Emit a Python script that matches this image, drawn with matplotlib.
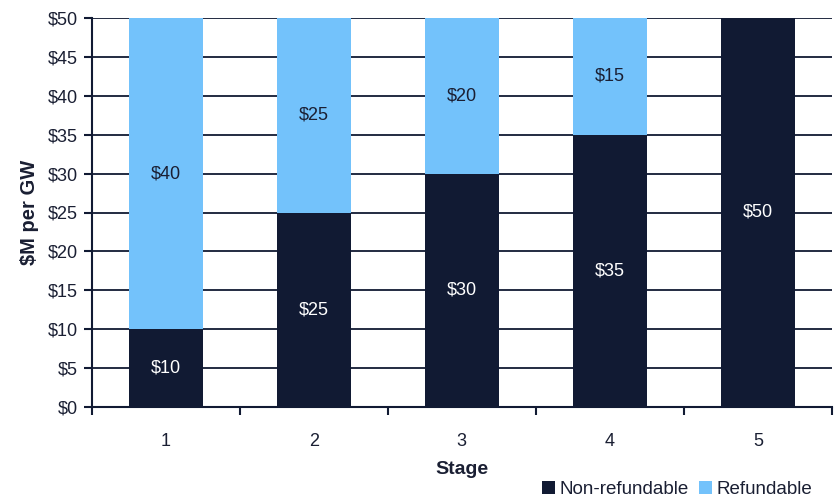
import matplotlib

matplotlib.use("Agg")

import matplotlib.pyplot as plt
from matplotlib.ticker import FixedLocator

plt.rcParams["font.family"] = ["Liberation Sans", "DejaVu Sans"]

# data
stages = ["1", "2", "3", "4", "5"]
non_refundable = [10, 25, 30, 35, 50]
refundable = [40, 25, 20, 15, 0]

C_DARK = "#111a33"
C_LIGHT = "#73c2fb"
C_TEXT = "#1a1f33"

fig = plt.figure(figsize=(8.34, 5.0), dpi=100)
ax = fig.add_axes([0.110, 0.186, 0.8875, 0.778])

x = list(range(1, len(stages) + 1))
b1 = ax.bar(x, non_refundable, width=0.5, color=C_DARK, label="Non-refundable", zorder=3)
b2 = ax.bar(x, refundable, width=0.5, bottom=non_refundable, color=C_LIGHT,
            label="Refundable", zorder=3)

# labels inside segments
for xi, nv, rv in zip(x, non_refundable, refundable):
    if nv > 0:
        ax.text(xi, nv / 2, f"${nv}", ha="center", va="center", color="white", fontsize=13)
    if rv > 0:
        ax.text(xi, nv + rv / 2, f"${rv}", ha="center", va="center", color=C_TEXT, fontsize=13)

ax.set_xlim(0.5, 5.5)
ax.set_ylim(0, 50)
ax.set_yticks(range(0, 55, 5))
ax.set_yticklabels([f"${v}" for v in range(0, 55, 5)])

ax.xaxis.set_major_locator(FixedLocator([0.5 + i for i in range(6)]))
ax.xaxis.set_minor_locator(FixedLocator(x))
ax.set_xticklabels([""] * 6)
ax.set_xticklabels(stages, minor=True)
ax.tick_params(axis="x", which="minor", length=0, pad=19, labelsize=13, labelcolor=C_TEXT)
ax.tick_params(axis="x", which="major", length=6, width=1.5, color=C_DARK, direction="out")
ax.tick_params(axis="y", length=6, width=1.5, color=C_DARK, labelsize=13, labelcolor=C_TEXT,
               pad=4)

ax.grid(axis="y", color=C_DARK, linewidth=1.3, zorder=0)
ax.set_axisbelow(True)

for s in ["top", "right"]:
    ax.spines[s].set_visible(False)
for s in ["left", "bottom"]:
    ax.spines[s].set_color(C_DARK)
    ax.spines[s].set_linewidth(1.5)

ax.set_ylabel("$M per GW", fontsize=14.5, fontweight="bold", color=C_TEXT, labelpad=6)
ax.set_xlabel("Stage", fontsize=14, fontweight="bold", color=C_TEXT, labelpad=8)

fig.legend(handles=[b1, b2], loc="lower right", bbox_to_anchor=(0.994, -0.03), ncol=2,
           frameon=False, fontsize=13.5, handlelength=0.7, handleheight=0.7,
           handletextpad=0.25, columnspacing=0.5, labelcolor=C_TEXT)

fig.savefig("out.png", dpi=100)
